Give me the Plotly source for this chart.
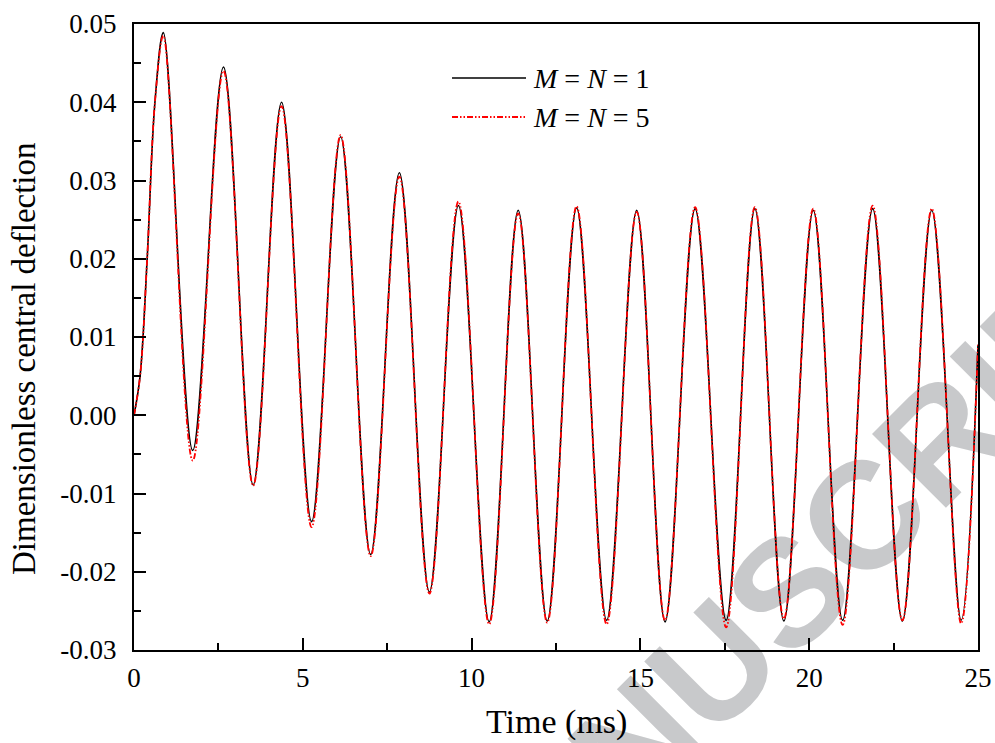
import plotly.graph_objects as go

# ---- data (extrema of the oscillation) ----
time_mn1 = [0.0, 0.18, 0.39, 0.62, 0.87, 1.74, 2.65, 3.53, 4.37, 5.26, 6.12, 7.01,
            7.86, 8.75, 9.61, 10.52, 11.38, 12.24, 13.11, 14.00, 14.89, 15.73,
            16.62, 17.54, 18.39, 19.25, 20.12, 20.99, 21.88, 22.76, 23.63, 24.50, 25.0]
defl_mn1 = [0.0, 0.0050, 0.0200, 0.0400, 0.0489, -0.0045, 0.0445, -0.0089, 0.0400,
            -0.0136, 0.0356, -0.0178, 0.0310, -0.0226, 0.0268, -0.0264, 0.0262,
            -0.0263, 0.0265, -0.0262, 0.0262, -0.0264, 0.0264, -0.0262, 0.0264,
            -0.0263, 0.0262, -0.0262, 0.0264, -0.0263, 0.0262, -0.0262, 0.0090]

time_mn5 = [0.0, 0.18, 0.39, 0.62, 0.87, 1.74, 2.65, 3.53, 4.37, 5.26, 6.12, 7.01,
            7.86, 8.75, 9.61, 10.52, 11.38, 12.24, 13.11, 14.00, 14.89, 15.73,
            16.62, 17.54, 18.39, 19.25, 20.12, 20.99, 21.88, 22.76, 23.63, 24.50, 25.0]
defl_mn5 = [0.0, 0.0050, 0.0200, 0.0400, 0.0485, -0.0058, 0.0440, -0.0090, 0.0395,
            -0.0143, 0.0358, -0.0180, 0.0305, -0.0228, 0.0273, -0.0267, 0.0258,
            -0.0265, 0.0267, -0.0267, 0.0260, -0.0262, 0.0266, -0.0271, 0.0266,
            -0.0260, 0.0264, -0.0268, 0.0268, -0.0262, 0.0264, -0.0266, 0.0090]

series_names = ["<i>M</i> = <i>N</i> = 1", "<i>M</i> = <i>N</i> = 5"]

x_tickvals = [0, 5, 10, 15, 20, 25]
x_ticktext = ["0", "5", "10", "15", "20", "25"]
x_minor = [2.5, 7.5, 12.5, 17.5, 22.5]
y_tickvals = [-0.03, -0.02, -0.01, 0.0, 0.01, 0.02, 0.03, 0.04, 0.05]
y_ticktext = ["-0.03", "-0.02", "-0.01", "0.00", "0.01", "0.02", "0.03", "0.04", "0.05"]
y_minor = [-0.025, -0.015, -0.005, 0.005, 0.015, 0.025, 0.035, 0.045]
top_ticks = [0, 2.5, 5, 7.5, 10, 12.5, 15, 17.5, 20, 22.5, 25]
right_ticks = [0.05, 0.042, 0.034, 0.026, 0.018, 0.010, 0.002, -0.006, -0.014, -0.022, -0.03]

SERIF = "Liberation Serif"
RED_DASH = "6px,2px,1.5px,2px,1.5px,2px"

fig = go.Figure()
fig.add_trace(go.Scatter(x=time_mn1, y=defl_mn1, mode="lines", name=series_names[0],
                         line=dict(color="black", width=1.6, shape="spline", smoothing=1.0),
                         showlegend=False))
fig.add_trace(go.Scatter(x=time_mn5, y=defl_mn5, mode="lines", name=series_names[1],
                         line=dict(color="#ff0000", width=1.8, shape="spline", smoothing=1.0,
                                   dash=RED_DASH),
                         showlegend=False))

axis_common = dict(showgrid=False, zeroline=False, showline=True, linecolor="black",
                   linewidth=2, mirror=True, ticks="inside", ticklen=12, tickwidth=2,
                   tickcolor="black", automargin=False,
                   tickfont=dict(family=SERIF, size=27, color="black"))

fig.update_xaxes(range=[0, 25], tickmode="array", tickvals=x_tickvals, ticktext=x_ticktext,
                 minor=dict(tickmode="array", tickvals=x_minor, ticks="inside", ticklen=7,
                            tickwidth=2, tickcolor="black", showgrid=False),
                 ticklabelstandoff=3, **axis_common)
fig.update_yaxes(range=[-0.03, 0.05], tickmode="array", tickvals=y_tickvals, ticktext=y_ticktext,
                 minor=dict(tickmode="array", tickvals=y_minor, ticks="inside", ticklen=7,
                            tickwidth=2, tickcolor="black", showgrid=False),
                 ticklabelstandoff=10, **axis_common)

fig.update_layout(
    width=995, height=743,
    margin=dict(l=134, r=17, t=24, b=93),
    font=dict(family=SERIF, color="black"),
    paper_bgcolor="white", plot_bgcolor="rgba(0,0,0,0)",
    xaxis2=dict(overlaying="x", side="top", range=[0, 25], tickmode="array",
                tickvals=top_ticks, ticks="inside", ticklen=3, tickwidth=1.5,
                tickcolor="black", showticklabels=False, showgrid=False,
                zeroline=False, showline=False, anchor="y", automargin=False),
    yaxis2=dict(overlaying="y", side="right", range=[-0.03, 0.05], tickmode="array",
                tickvals=right_ticks, ticks="inside", ticklen=3, tickwidth=1.5,
                tickcolor="black", showticklabels=False, showgrid=False,
                zeroline=False, showline=False, anchor="x", automargin=False),
)

# axis titles
fig.add_annotation(text="Time (ms)", xref="paper", yref="paper", x=0.5, y=-0.115,
                   xanchor="center", yanchor="middle", showarrow=False,
                   font=dict(family=SERIF, size=34, color="black"))
fig.add_annotation(text="Dimensionless central deflection", xref="paper", yref="paper",
                   x=-0.1303, y=0.4649, xanchor="center", yanchor="middle", textangle=-90,
                   showarrow=False, font=dict(family=SERIF, size=33, color="black"))

# manual legend
legend_rows = [0.9137, 0.8514]
legend_styles = [dict(color="black", width=1.6), dict(color="#ff0000", width=1.8, dash=RED_DASH)]
for name, yrow, st in zip(series_names, legend_rows, legend_styles):
    fig.add_shape(type="line", xref="paper", yref="paper", x0=0.3768, x1=0.4645,
                  y0=yrow, y1=yrow, line=st)
    fig.add_annotation(text=name, xref="paper", yref="paper", x=0.4704, y=yrow,
                       xanchor="left", yanchor="middle", showarrow=False,
                       font=dict(family=SERIF, size=28, color="black"))

# watermark (behind the traces)
fig.add_shape(type="rect", xref="paper", yref="paper", x0=0.753, x1=0.773, y0=0.100, y1=0.120,
              line=dict(width=0), fillcolor="rgba(0,0,0,0)", layer="below",
              label=dict(text="MANUSCRIPT", textposition="middle center", textangle=-45,
                         font=dict(family="Liberation Sans", size=152,
                                   color="rgb(200,201,203)", weight="bold")))

fig.write_html("out.html", config={"displayModeBar": False},
               post_script="document.body.style.margin='0';document.body.style.overflow='hidden';")
